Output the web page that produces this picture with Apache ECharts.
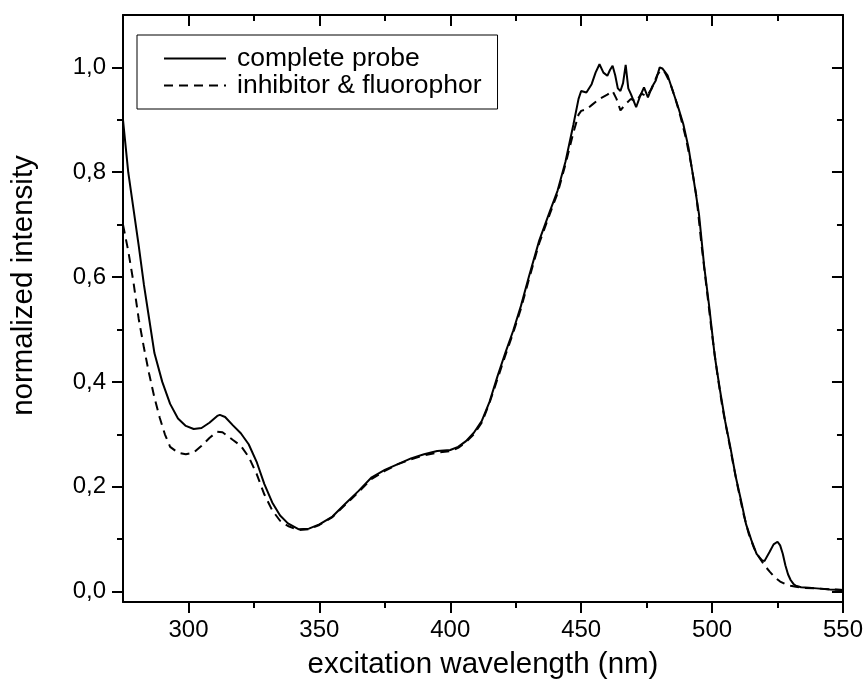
<!DOCTYPE html>
<html>
<head>
<meta charset="utf-8">
<script src="https://cdn.jsdelivr.net/npm/echarts@6/dist/echarts.min.js"></script>
<style>
html,body{margin:0;padding:0;background:#fff;}
#chart{width:866px;height:691px;}
</style>
</head>
<body>
<div id="chart"></div>
<script>
// ---- data ----
var seriesNames = ['complete probe', 'inhibitor & fluorophor'];

var completeWl = [275,277,279,281,283,285,287,290,293,296,299,302,305,308,311,312,314,317,320,323,326,329,332,335,338,342,346,350,355,360,365,370,375,380,385,390,395,400,403,406,409,412,415,418,421,424,427,430,434,438,441,444,447,449,450,452,454,455.5,457,458.5,460,461,462,463,464,465,466,467,468,469,471,472.5,474,475.5,477,478.5,480,481,483,485,487,489,491,493,495,497,499,501,503,505,507,509,511,513,515,517,519,520,522,523.5,525,526,527,528,529,530,531,532,534,537,540,545,550];
var completeVal = [0.90,0.80,0.73,0.66,0.585,0.52,0.455,0.40,0.358,0.33,0.316,0.310,0.312,0.322,0.335,0.337,0.333,0.317,0.302,0.281,0.248,0.205,0.170,0.145,0.130,0.119,0.120,0.128,0.143,0.168,0.192,0.218,0.232,0.243,0.254,0.262,0.268,0.270,0.276,0.287,0.303,0.325,0.362,0.410,0.455,0.497,0.545,0.600,0.670,0.725,0.765,0.820,0.890,0.940,0.955,0.952,0.968,0.990,1.006,0.990,0.984,0.995,1.003,0.985,0.960,0.955,0.970,1.005,0.960,0.949,0.924,0.945,0.962,0.943,0.962,0.975,1.000,0.998,0.985,0.955,0.925,0.892,0.847,0.785,0.720,0.620,0.540,0.450,0.385,0.325,0.275,0.220,0.175,0.128,0.098,0.072,0.060,0.058,0.076,0.090,0.095,0.088,0.072,0.050,0.033,0.022,0.015,0.011,0.008,0.007,0.006,0.004,0.003];

var inhibitorWl = [275,277,279,281,283,285,287,289,291,293,296,299,302,305,308,311,313,317,320,323,326,329,332,335,338,342,346,350,355,360,365,370,375,380,385,390,395,400,403,406,409,412,415,418,421,424,427,430,434,438,441,444,447,449,450,452,454,457,460,462,463.5,465,467,469,471,473,475,477,479,480.5,482,484,486,488,490,492,494,496,498,500,502,504,506,508,510,512,514,516,518,520,522,524,526,528,530,532,535,540,545,550];
var inhibitorVal = [0.70,0.65,0.59,0.52,0.465,0.415,0.37,0.332,0.30,0.276,0.265,0.262,0.265,0.278,0.293,0.305,0.304,0.289,0.278,0.257,0.225,0.185,0.155,0.135,0.125,0.117,0.119,0.127,0.142,0.166,0.190,0.215,0.230,0.243,0.252,0.260,0.265,0.268,0.274,0.285,0.300,0.322,0.360,0.405,0.450,0.493,0.540,0.595,0.665,0.720,0.760,0.815,0.875,0.910,0.917,0.920,0.928,0.940,0.948,0.955,0.940,0.918,0.930,0.940,0.935,0.950,0.945,0.960,0.985,0.995,0.990,0.970,0.940,0.905,0.865,0.815,0.755,0.660,0.575,0.490,0.415,0.350,0.298,0.245,0.195,0.148,0.110,0.083,0.065,0.050,0.038,0.027,0.019,0.014,0.011,0.009,0.007,0.006,0.004,0.003];

var xMajor = [300,350,400,450,500,550];
var xMinor = [325,375,425,475,525];
var yMajor = [0,0.2,0.4,0.6,0.8,1.0];
var yMinor = [0.1,0.3,0.5,0.7,0.9];

var xTitle = 'excitation wavelength (nm)';
var yTitle = 'normalized intensity';

// ---- chart ----
var FONT = "'Liberation Sans', Arial, sans-serif";
function pairs(xs, ys){ return xs.map(function(x,i){ return [x, ys[i]]; }); }
function fmt(v){ return v.toFixed(1).replace('.', ','); }

var black = '#000';
var lineStyle = {color: black, width: 2};

function xAx(pos, ticks, len, inside, showLine, extra){
  var a = {
    type:'value', min:275, max:550, position:pos,
    axisLine:{show:showLine, lineStyle:lineStyle, onZero:false},
    axisTick:{show:true, customValues:ticks, length:len, inside:inside, lineStyle:lineStyle},
    axisLabel:{show:false},
    splitLine:{show:false}
  };
  return Object.assign(a, extra||{});
}
function yAx(pos, ticks, len, inside, showLine, extra){
  var a = {
    type:'value', min:-0.02, max:1.1, position:pos,
    axisLine:{show:showLine, lineStyle:lineStyle, onZero:false},
    axisTick:{show:true, customValues:ticks, length:len, inside:inside, lineStyle:lineStyle},
    axisLabel:{show:false},
    splitLine:{show:false}
  };
  return Object.assign(a, extra||{});
}

var chart = echarts.init(document.getElementById('chart'), null, {renderer:'canvas'});
chart.setOption({
  animation:false,
  backgroundColor:'#fff',
  grid:{left:123, right:23, top:15, bottom:89, containLabel:false},
  legend:{
    data:seriesNames,
    orient:'vertical',
    left:137, top:35,
    padding:[10,16,10,26],
    itemGap:0,
    itemWidth:62, itemHeight:14,
    borderColor:black, borderWidth:1, borderRadius:0,
    itemStyle:{opacity:0},
    textStyle:{fontFamily:FONT, fontSize:26.5, color:black, lineHeight:27, padding:[0,0,0,6]}
  },
  xAxis:[
    xAx('bottom', xMajor, 11, false, true, {
      axisLabel:{show:true, customValues:xMajor, fontFamily:FONT, fontSize:24, color:black, margin:16,
        formatter:function(v){ return String(Math.round(v)); }},
      name:xTitle, nameLocation:'middle', nameGap:48,
      nameTextStyle:{fontFamily:FONT, fontSize:29.5, color:black}
    }),
    xAx('bottom', xMinor, 6, false, false),
    xAx('top', xMajor, 11, true, true),
    xAx('top', xMinor, 6, true, false)
  ],
  yAxis:[
    yAx('left', yMajor, 11, false, true, {
      axisLabel:{show:true, customValues:yMajor, fontFamily:FONT, fontSize:24, color:black, margin:17,
        formatter:function(v){ return fmt(v); }},
      name:yTitle, nameLocation:'middle', nameGap:84,
      nameTextStyle:{fontFamily:FONT, fontSize:29.5, color:black, padding:[0,0,0,46]}
    }),
    yAx('left', yMinor, 6, false, false),
    yAx('right', yMajor, 11, true, true),
    yAx('right', yMinor, 6, true, false)
  ],
  series:[
    {
      name:seriesNames[0], type:'line', xAxisIndex:0, yAxisIndex:0,
      data:pairs(completeWl, completeVal),
      showSymbol:false, symbol:'none', smooth:false,
      lineStyle:{color:black, width:2, type:'solid'},
      itemStyle:{color:black}
    },
    {
      name:seriesNames[1], type:'line', xAxisIndex:0, yAxisIndex:0,
      data:pairs(inhibitorWl, inhibitorVal),
      showSymbol:false, symbol:'none', smooth:false,
      lineStyle:{color:black, width:2, type:[9,6]},
      itemStyle:{color:black}
    }
  ]
});
</script>
</body>
</html>
